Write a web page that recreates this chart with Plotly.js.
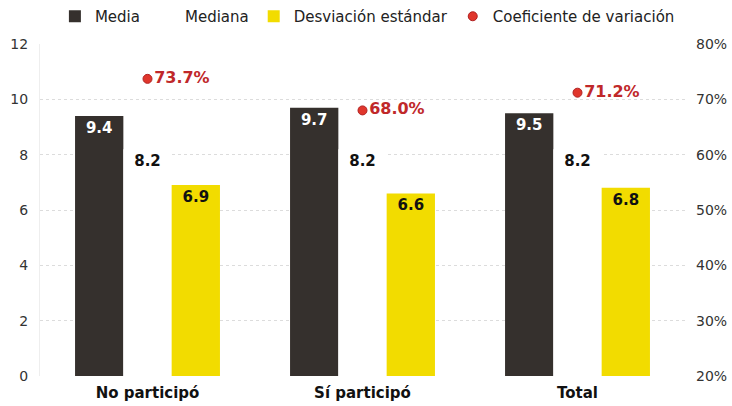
<!DOCTYPE html>
<html>
<head>
<meta charset="utf-8">
<script src="https://cdn.plot.ly/plotly-3.0.1.min.js"></script>
<style>html,body{margin:0;padding:0;background:#fff;}#chart{width:732px;height:406px;}</style>
</head>
<body>
<div id="chart"></div>
<script>
const categories = ['No participó', 'Sí participó', 'Total'];
const media = [9.4, 9.7, 9.5];
const mediana = [8.2, 8.2, 8.2];
const desviacion = [6.9, 6.6, 6.8];
const coefVariacion = [0.737, 0.680, 0.712];
const seriesNames = ['Media', 'Mediana', 'Desviación estándar', 'Coeficiente de variación'];

const FONT = '"DejaVu Sans", sans-serif';
const fmt = v => '<b>' + v.toFixed(1) + '</b>';
const pct = v => '<b>' + (v * 100).toFixed(1) + '%</b>';

const traces = [
  {
    type: 'bar', name: seriesNames[0], x: categories, y: media,
    marker: {color: '#35302d'},
    text: media.map(fmt), textposition: 'inside', insidetextanchor: 'end',
    textfont: {color: '#ffffff', size: 15, family: FONT}, constraintext: 'none',
    hoverinfo: 'skip'
  },
  {
    type: 'bar', name: seriesNames[1], x: categories, y: mediana,
    marker: {color: '#ffffff'},
    text: mediana.map(fmt), textposition: 'inside', insidetextanchor: 'end',
    textfont: {color: '#111111', size: 15, family: FONT}, constraintext: 'none',
    hoverinfo: 'skip'
  },
  {
    type: 'bar', name: seriesNames[2], x: categories, y: desviacion,
    marker: {color: '#f2dc00'},
    text: desviacion.map(fmt), textposition: 'inside', insidetextanchor: 'end',
    textfont: {color: '#111111', size: 15, family: FONT}, constraintext: 'none',
    hoverinfo: 'skip'
  },
  {
    type: 'scatter', name: seriesNames[3], x: categories, y: coefVariacion, yaxis: 'y2',
    mode: 'markers+text',
    marker: {color: '#e0362c', size: 9, line: {color: '#b02020', width: 1}},
    text: coefVariacion.map(pct), textposition: 'middle right',
    textfont: {color: '#c0282a', size: 16, family: FONT},
    hoverinfo: 'skip'
  }
];

const layout = {
  width: 732, height: 406,
  margin: {l: 40, r: 47, t: 44, b: 30},
  paper_bgcolor: '#ffffff', plot_bgcolor: '#ffffff',
  font: {family: FONT, color: '#333333', size: 14},
  barmode: 'group', bargap: 0.326, bargroupgap: 0,
  showlegend: true,
  legend: {
    orientation: 'h', xref: 'container', yref: 'container',
    x: 0.075, y: 1.0, xanchor: 'left', yanchor: 'top',
    font: {size: 15, color: '#222', family: FONT}, itemwidth: 30, tracegroupgap: 0,
    traceorder: 'normal', bgcolor: 'rgba(0,0,0,0)'
  },
  xaxis: {
    type: 'category', showgrid: false, zeroline: false, showline: false, ticks: '',
    ticklabelstandoff: 6,
    tickfont: {size: 15, color: '#111', family: FONT, weight: 'bold'},
    automargin: false
  },
  yaxis: {
    range: [0, 12], dtick: 2, tick0: 0,
    showgrid: true, gridcolor: '#dcdcdc', griddash: 'dot', gridwidth: 1,
    zeroline: false, showline: true, linecolor: '#eeeeee',
    ticks: '', ticklabelstandoff: 8,
    tickfont: {size: 14, color: '#333', family: FONT}, automargin: false
  },
  yaxis2: {
    overlaying: 'y', side: 'right', range: [0.2, 0.8], dtick: 0.1, tick0: 0.2,
    tickformat: '.0%', showgrid: false, zeroline: false, showline: false,
    ticks: '', ticklabelstandoff: 10,
    tickfont: {size: 14, color: '#333', family: FONT}, automargin: false
  }
};

Plotly.newPlot('chart', traces, layout, {displayModeBar: false, staticPlot: true});
</script>
</body>
</html>
